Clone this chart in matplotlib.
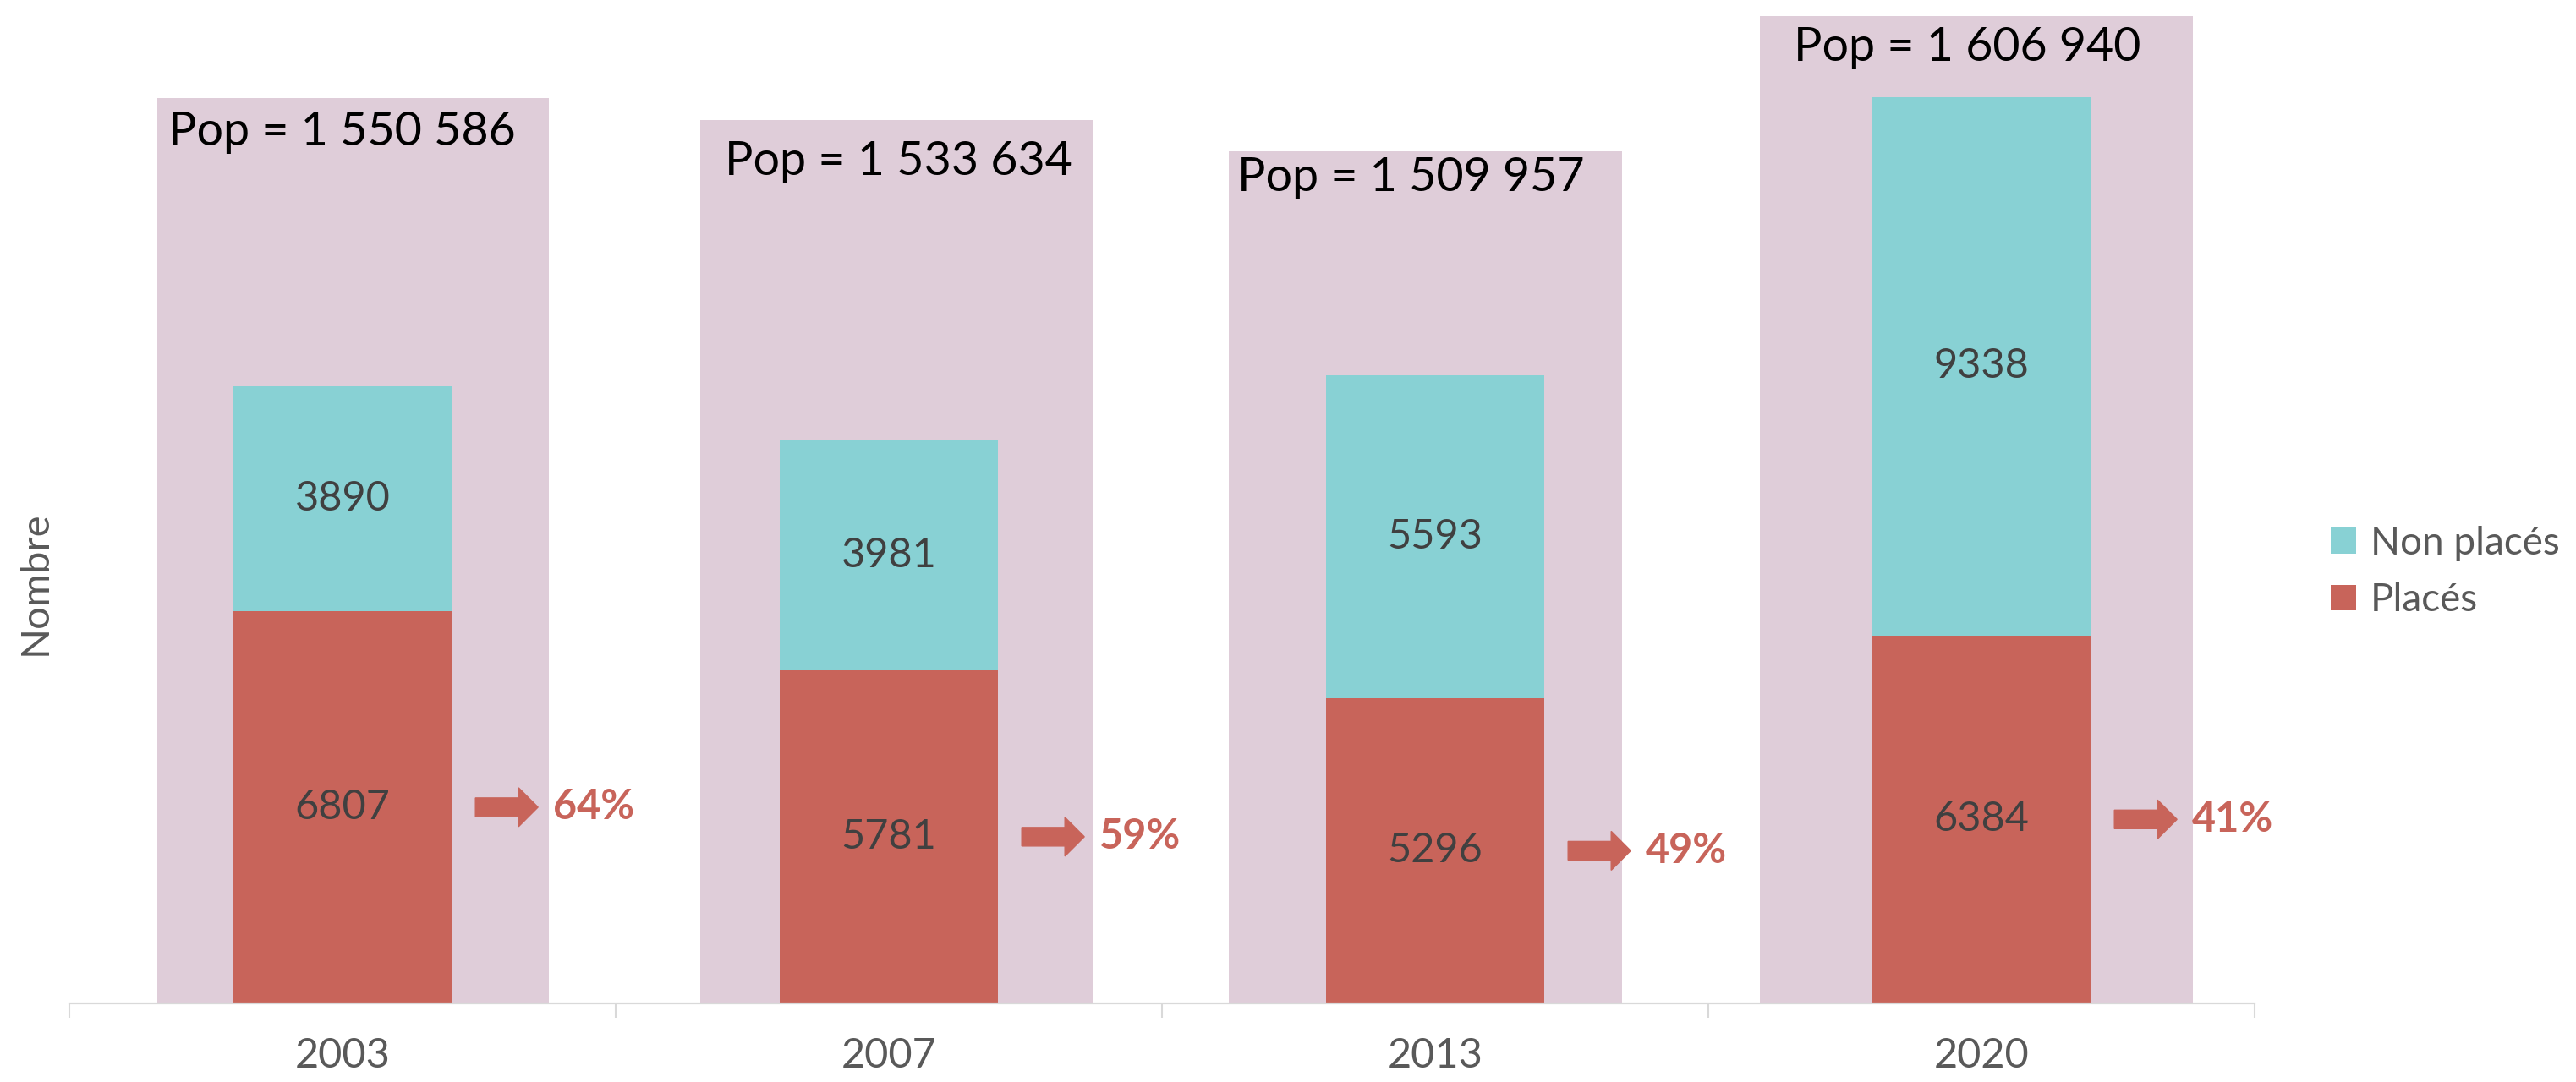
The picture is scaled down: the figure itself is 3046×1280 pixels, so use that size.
import matplotlib
matplotlib.use("Agg")
import matplotlib.pyplot as plt
from matplotlib.patches import Rectangle, FancyArrow, Patch
import matplotlib.transforms as mtransforms

# ---------------- data ----------------
years = ["2003", "2007", "2013", "2020"]
places = [6807, 5781, 5296, 6384]
non_places = [3890, 3981, 5593, 9338]
pop_labels = ["Pop = 1 550 586", "Pop = 1 533 634", "Pop = 1 509 957", "Pop = 1 606 940"]
pct_labels = ["64%", "59%", "49%", "41%"]
series_names = ["Placés", "Non placés"]

# ---------------- style / layout ----------------
C_RED = "#C8645A"
C_TEAL = "#88D1D4"
C_PINK = "#DFCDD9"
C_AXIS = "#D9D9D9"
C_TXT = "#595959"
C_LBL = "#404040"
FONT = ["Lato", "DejaVu Sans"]
plt.rcParams["font.family"] = FONT

W, H, DPI = 3046, 1280, 100
bar_width = 0.40
# decorative population boxes (offsets relative to category centre, tops in axes fraction)
box_left_off = [-0.339, -0.345, -0.378, -0.406]
box_right_off = [0.378, 0.373, 0.342, 0.387]
box_top = [0.902, 0.880, 0.849, 0.984]
pop_text_off = [-0.319, -0.300, -0.362, -0.344]
pop_text_base = [0.855, 0.826, 0.810, 0.939]

fig = plt.figure(figsize=(W / DPI, H / DPI), dpi=DPI)
ax = fig.add_axes([82 / W, 93 / H, (2666 - 82) / W, 1187 / H])
ax.set_xlim(-0.5, 3.5)
ax.set_ylim(0, 1187 / 0.0682)

x = list(range(len(years)))
trans = mtransforms.blended_transform_factory(ax.transData, ax.transAxes)

# background population boxes
for i in x:
    l = i + box_left_off[i]
    r = i + box_right_off[i]
    ax.add_patch(Rectangle((l, 0), r - l, box_top[i], transform=trans,
                           facecolor=C_PINK, edgecolor="none", zorder=1))
    ax.text(i + pop_text_off[i], pop_text_base[i], pop_labels[i], transform=trans,
            ha="left", va="baseline", fontsize=40, color="black", zorder=4)

# stacked bars
b1 = ax.bar(x, places, width=bar_width, color=C_RED, zorder=2, label=series_names[0])
b2 = ax.bar(x, non_places, width=bar_width, bottom=places, color=C_TEAL, zorder=2,
            label=series_names[1])

for i in x:
    ax.text(i, places[i] / 2, str(places[i]), ha="center", va="center",
            fontsize=35, color=C_LBL, zorder=3)
    ax.text(i, places[i] + non_places[i] / 2, str(non_places[i]), ha="center",
            va="center", fontsize=35, color=C_LBL, zorder=3)

# arrows + percentages (sizes in pixels converted to data units)
px_x = 1 / 646.0
px_y = 1 / 0.0682
for i in x:
    yc = places[i] / 2
    x0 = i + bar_width / 2 + 28 * px_x
    ax.add_patch(FancyArrow(x0, yc, 74 * px_x, 0, width=22 * px_y,
                            head_width=46 * px_y, head_length=23 * px_x,
                            length_includes_head=True, color=C_RED, zorder=3))
    ax.text(i + 0.385, yc, pct_labels[i], ha="left", va="center", fontsize=35,
            fontweight="bold", color=C_RED, zorder=3)

# axes styling
for s in ["top", "right", "left"]:
    ax.spines[s].set_visible(False)
ax.spines["bottom"].set_color(C_AXIS)
ax.spines["bottom"].set_linewidth(1.6)
ax.set_yticks([])
ax.set_xticks(x)
ax.set_xticklabels(years, fontsize=35, color=C_TXT)
ax.tick_params(axis="x", which="major", length=0, pad=29)
ax.set_xticks([-0.5, 0.5, 1.5, 2.5, 3.5], minor=True)
ax.tick_params(axis="x", which="minor", length=12, width=1.5, color=C_AXIS)

fig.text(42 / W, 1 - 690 / H, "Nombre", rotation=90, ha="center", va="center",
         fontsize=34, color=C_TXT)

handles = [Patch(facecolor=C_TEAL, edgecolor="none"), Patch(facecolor=C_RED, edgecolor="none")]
leg = fig.legend(handles, [series_names[1], series_names[0]], loc="center left",
                 bbox_to_anchor=(2756 / W, 1 - 676.5 / H), frameon=False,
                 fontsize=33, handlelength=0.65, handleheight=0.65,
                 handletextpad=0.37, labelspacing=0.55, borderpad=0, borderaxespad=0)
for t in leg.get_texts():
    t.set_color(C_TXT)

fig.savefig("out.png", dpi=DPI)
